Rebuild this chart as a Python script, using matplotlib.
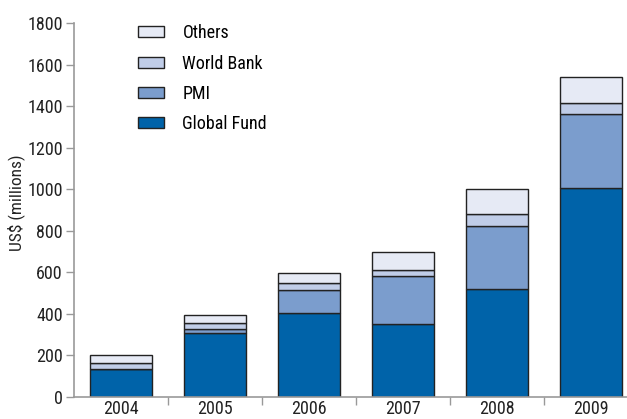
import matplotlib
matplotlib.use("Agg")
import matplotlib.pyplot as plt
import numpy as np

years = ["2004", "2005", "2006", "2007", "2008", "2009"]
global_fund = [135, 310, 405, 350, 520, 1005]
pmi = [0, 15, 108, 230, 305, 358]
world_bank = [28, 30, 35, 33, 55, 52]
others = [37, 38, 47, 83, 120, 123]

series = [
    ("Global Fund", global_fund, "#0063a9"),
    ("PMI", pmi, "#7b9dcd"),
    ("World Bank", world_bank, "#c0cde8"),
    ("Others", others, "#e6eaf5"),
]

plt.rcParams['font.family'] = ['Liberation Sans Narrow', 'Roboto Condensed', 'Roboto', 'DejaVu Sans']

fig = plt.figure(figsize=(6.27, 4.19), dpi=100)
ax = fig.add_axes([74 / 627, 22 / 419, 564 / 627, 374 / 419])

x = np.arange(len(years))
bottom = np.zeros(len(years))
handles = []
for name, vals, col in series:
    b = ax.bar(x, vals, width=0.67, bottom=bottom, color=col,
               edgecolor="#222222", linewidth=1.0, label=name)
    handles.append(b)
    bottom += np.array(vals)

ax.set_xlim(-0.5, len(years) - 0.5)
ax.set_ylim(0, 1800)
ax.set_yticks(range(0, 1801, 200))
ax.set_xticks(x)
ax.set_xticklabels(years)
ax.set_xticks(np.arange(0.5, len(years) - 0.5, 1), minor=True)
ax.tick_params(axis="x", which="major", length=0, labelsize=13, pad=2, colors="#222222")
ax.tick_params(axis="x", which="minor", length=6, color="#999999", width=1)
ax.tick_params(axis="y", length=6, color="#999999", width=1, labelsize=13, labelcolor="#222222", pad=2)

for s in ["top", "right"]:
    ax.spines[s].set_visible(False)
for s in ["left", "bottom"]:
    ax.spines[s].set_color("#999999")
    ax.spines[s].set_linewidth(1.2)

ax.set_ylabel("US$ (millions)", fontsize=12.5, color="#222222")
ax.yaxis.set_label_coords(-0.086, 0.52)

leg = ax.legend(handles[::-1], [s[0] for s in series][::-1], loc="upper left",
                bbox_to_anchor=(0.085, 1.04), frameon=False, fontsize=13,
                handlelength=1.45, handleheight=0.55, labelspacing=0.68, handletextpad=1.0)

fig.savefig("out.png", dpi=100)
